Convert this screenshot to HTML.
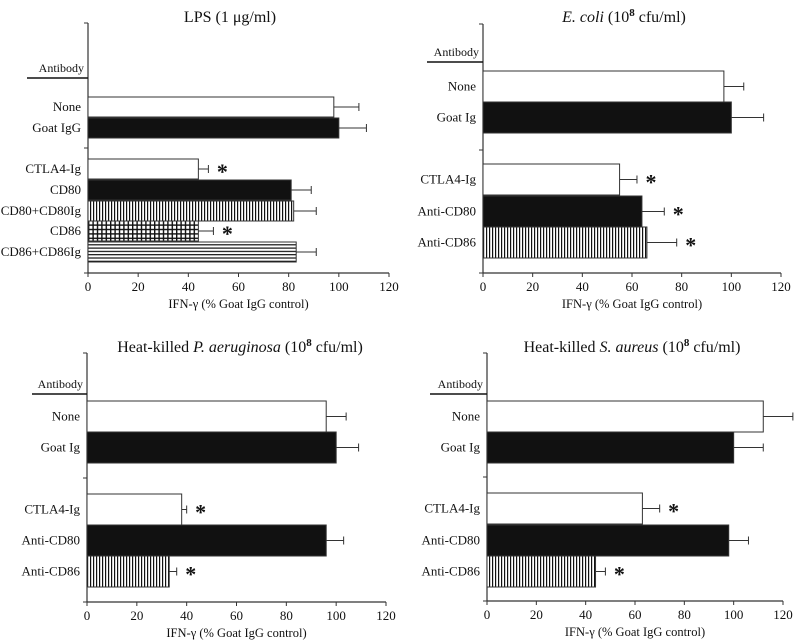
<!DOCTYPE html>
<html><head><meta charset="utf-8"><style>
html,body{margin:0;padding:0;background:#fff;}
svg{display:block;}
svg text{font-family:"Liberation Serif","Times New Roman",serif;}
</style></head><body>
<svg id="chart" width="800" height="642" viewBox="0 0 800 642" xmlns="http://www.w3.org/2000/svg" font-family="Liberation Serif, serif">
<defs>
<pattern id="vstripe" width="3" height="4" patternUnits="userSpaceOnUse"><rect width="3" height="4" fill="#fff"/><rect width="1.2" height="4" fill="#111"/></pattern>
<pattern id="grid" width="4.4" height="4.4" patternUnits="userSpaceOnUse"><rect width="4.4" height="4.4" fill="#111"/><rect x="1.4" y="1.4" width="3" height="3" fill="#fff"/></pattern>
<pattern id="hstripe" width="4" height="3.3" patternUnits="userSpaceOnUse"><rect width="4" height="3.3" fill="#fff"/><rect width="4" height="1.2" fill="#111"/></pattern>
</defs>
</svg>
<script>
// Panel 1: LPS
const p1Cats = ["None","Goat IgG","CTLA4-Ig","CD80","CD80+CD80Ig","CD86","CD86+CD86Ig"];
const p1Vals = [98,100,44,81,82,44,83];
const p1Errs = [10,11,4,8,9,6,8];
const p1Sig = [false,false,true,false,false,true,false];
// Panel 2: E. coli
const p2Cats = ["None","Goat Ig","CTLA4-Ig","Anti-CD80","Anti-CD86"];
const p2Vals = [97,100,55,64,66];
const p2Errs = [8,13,7,9,12];
const p2Sig = [false,false,true,true,true];
// Panel 3: P. aeruginosa
const p3Cats = ["None","Goat Ig","CTLA4-Ig","Anti-CD80","Anti-CD86"];
const p3Vals = [96,100,38,96,33];
const p3Errs = [8,9,2,7,3];
const p3Sig = [false,false,true,false,true];
// Panel 4: S. aureus
const p4Cats = ["None","Goat Ig","CTLA4-Ig","Anti-CD80","Anti-CD86"];
const p4Vals = [112,100,63,98,44];
const p4Errs = [12,12,7,8,4];
const p4Sig = [false,false,true,false,true];
const xTicks = [0,20,40,60,80,100,120];

const NS="http://www.w3.org/2000/svg";
const svg=document.getElementById('chart');
const FF='"Liberation Serif", serif';
function mk(tag,attrs,parent){const e=document.createElementNS(NS,tag);for(const k in attrs)e.setAttribute(k,attrs[k]);if(tag==='text')e.style.fontFamily=FF;(parent||svg).appendChild(e);return e;}

function panel(cfg,cats,vals,errs,sig){
  const g=mk('g',{});
  
  
  const x=v=>cfg.x0+(cfg.x1-cfg.x0)*v/120;
  const t=mk('text',{x:cfg.tx,y:cfg.ty,'font-size':16,'text-anchor':'middle',fill:'#111'},g);
  t.innerHTML=cfg.title;
  
  
  const ya=mk('line',{x1:cfg.x0,y1:cfg.top,x2:cfg.x0,y2:cfg.bot,stroke:'#333','stroke-width':1.2},g);
  
  
  const xa=mk('line',{x1:cfg.x0,y1:cfg.bot,x2:cfg.x1,y2:cfg.bot,stroke:'#333','stroke-width':1.2},g);
  
  
  mk('line',{x1:cfg.x0-4,y1:cfg.top,x2:cfg.x0,y2:cfg.top,stroke:'#333'},g);
  mk('line',{x1:cfg.x0-4,y1:cfg.mid,x2:cfg.x0,y2:cfg.mid,stroke:'#333'},g);
  mk('line',{x1:cfg.x0-4,y1:cfg.bot,x2:cfg.x0,y2:cfg.bot,stroke:'#333'},g);
  xTicks.forEach(v=>{
    mk('line',{x1:x(v),y1:cfg.bot,x2:x(v),y2:cfg.bot+4,stroke:'#333'},g);
    const tl=mk('text',{x:x(v),y:cfg.bot+18,'font-size':13,'text-anchor':'middle',fill:'#111'},g);
    tl.textContent=v;
    
    
  });
  const at=mk('text',{x:(cfg.x0+cfg.x1)/2,y:cfg.bot+35,'font-size':12.5,'text-anchor':'middle',fill:'#111'},g);
  at.textContent='IFN-γ (% Goat IgG control)';
  
  
  const ab=mk('text',{x:cfg.x0-4,y:cfg.aby,'font-size':12,'text-anchor':'end',fill:'#111'},g);
  ab.textContent='Antibody';
  
  
  mk('line',{x1:cfg.x0-cfg.ulw,y1:cfg.aby+6,x2:cfg.x0,y2:cfg.aby+6,stroke:'#111','stroke-width':1.5},g);
  cats.forEach((c,i)=>{
    const yy=cfg.rows[i], h=cfg.bh;
    const r=mk('rect',{x:cfg.x0,y:yy,width:x(vals[i])-cfg.x0,height:h,fill:cfg.fills[i],stroke:'#333','stroke-width':1},g);
    
    
    const cy=yy+h/2;
    const ex=x(vals[i]+errs[i]);
    const eb=mk('path',{d:`M${x(vals[i])},${cy}H${ex}M${ex},${cy-4}V${cy+4}`,stroke:'#333','stroke-width':1,fill:'none'},g);
    
    
    const lb=mk('text',{x:cfg.x0-7,y:cy+4,'font-size':13,'text-anchor':'end',fill:'#111'},g);
    lb.textContent=c;
    
    
    if(sig[i]){
      const s=mk('text',{x:ex+14,y:cy+10,'font-size':22,'font-weight':'bold','text-anchor':'middle',fill:'#111'},g);
      s.textContent='*';
      
      
    }
  });
}
const W='#fff',B='#111',V='url(#vstripe)',G='url(#grid)',H='url(#hstripe)';
panel({name:'panel-lps',title:'LPS (1 μg/ml)',tx:230,ty:22,x0:88,x1:389,top:23,mid:148,bot:273,aby:72,ulw:61,bh:20,
  rows:[97,118,159,180,201,221,242],fills:[W,B,W,B,V,G,H]},p1Cats,p1Vals,p1Errs,p1Sig);
panel({name:'panel-e-coli',title:'<tspan font-style="italic">E. coli</tspan>  (10<tspan font-size="11" dy="-6" font-weight="bold">8</tspan><tspan dy="6"> cfu/ml)</tspan>',tx:624,ty:22,x0:483,x1:781,top:24,mid:150,bot:273,aby:56,ulw:56,bh:31,
  rows:[71,102,164,196,227],fills:[W,B,W,B,V]},p2Cats,p2Vals,p2Errs,p2Sig);
panel({name:'panel-p-aeruginosa',title:'Heat-killed <tspan font-style="italic">P. aeruginosa</tspan>  (10<tspan font-size="11" dy="-6" font-weight="bold">8</tspan><tspan dy="6"> cfu/ml)</tspan>',tx:240,ty:352,x0:87,x1:386,top:353,mid:478,bot:602,aby:388,ulw:55,bh:31,
  rows:[401,432,494,525,556],fills:[W,B,W,B,V]},p3Cats,p3Vals,p3Errs,p3Sig);
panel({name:'panel-s-aureus',title:'Heat-killed <tspan font-style="italic">S. aureus</tspan> (10<tspan font-size="11" dy="-6" font-weight="bold">8</tspan><tspan dy="6"> cfu/ml)</tspan>',tx:632,ty:352,x0:487,x1:783,top:353,mid:477,bot:601,aby:388,ulw:57,bh:31,
  rows:[401,432,493,525,556],fills:[W,B,W,B,V]},p4Cats,p4Vals,p4Errs,p4Sig);
</script>
</body></html>
